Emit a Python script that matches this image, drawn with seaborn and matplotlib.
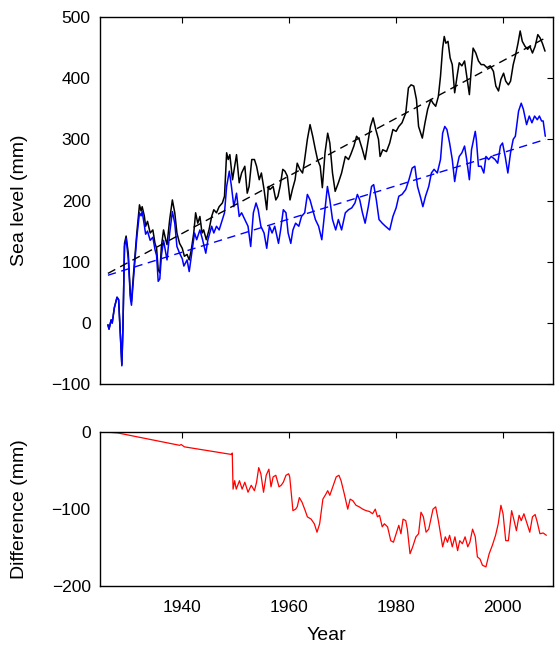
import numpy as np
import matplotlib
matplotlib.use("Agg")
import matplotlib.pyplot as plt
import seaborn as sb

#%% Daten

black_years = [1926.2, 1926.4, 1926.8, 1927.0, 1927.4, 1927.9, 1928.2, 1928.5, 1928.8, 1929.0,
               1929.3, 1929.6, 1930.0, 1930.4, 1930.6, 1931.0, 1931.6, 1932.1, 1932.4, 1932.6,
               1933.0, 1933.25, 1933.6, 1934.1, 1934.6, 1935.0, 1935.3, 1935.6, 1935.9, 1936.2,
               1936.6, 1937.0, 1937.25, 1937.75, 1938.25, 1938.7, 1939.1, 1939.6, 1940.1, 1940.5,
               1941.0, 1941.4, 1941.8, 1942.25, 1942.6, 1943.0, 1943.4, 1943.8, 1944.1, 1944.6,
               1945.1, 1945.6, 1946.0, 1946.5, 1947.0, 1947.6, 1948.0, 1948.4, 1948.7, 1949.0,
               1949.5, 1949.9, 1950.25, 1950.75, 1951.2, 1951.8, 1952.25, 1952.6, 1953.1, 1953.6,
               1954.0, 1954.5, 1954.9, 1955.4, 1955.9, 1956.2, 1956.5, 1957.1, 1957.6, 1958.0,
               1958.4, 1958.9, 1959.3, 1959.75, 1960.25, 1960.7, 1961.2, 1961.6, 1962.1, 1962.6,
               1962.9, 1963.5, 1964.0, 1964.5, 1965.0, 1965.4, 1965.9, 1966.3, 1966.8, 1967.3,
               1967.7, 1968.2, 1968.7, 1969.3, 1969.9, 1970.6, 1971.2, 1971.6, 1972.2, 1972.7,
               1973.2, 1973.8, 1974.3, 1974.7, 1975.3, 1975.8, 1976.3, 1976.8, 1977.1, 1977.6,
               1978.3, 1978.9, 1979.5, 1980.1, 1980.6, 1981.2, 1981.9, 1982.4, 1982.9, 1983.4,
               1983.9, 1984.3, 1985.0, 1985.5, 1986.0, 1986.6, 1987.0, 1987.5, 1988.0, 1988.4,
               1988.8, 1989.1, 1989.4, 1989.8, 1990.2, 1990.6, 1991.05, 1991.5, 1991.9, 1992.4,
               1992.9, 1993.3, 1993.8, 1994.2, 1994.5, 1995.0, 1995.5, 1996.0, 1996.5, 1997.1,
               1997.7, 1998.3, 1998.75, 1999.25, 1999.7, 2000.2, 2000.6, 2001.1, 2001.5, 2002.0,
               2002.4, 2002.9, 2003.3, 2003.7, 2004.2, 2004.7, 2005.1, 2005.6, 2006.1, 2006.6,
               2007.0, 2007.45, 2007.95]
black_level = [-3, -10, 5, 0, 25, 42, 38, -16, -68, -10,
               130, 142, 114, 45, 35, 82, 147, 193, 183, 190,
               175, 158, 166, 147, 152, 130, 122, 87, 82, 125,
               152, 136, 128, 169, 201, 180, 147, 130, 122, 109,
               112, 103, 120, 147, 180, 163, 174, 147, 152, 136,
               152, 174, 185, 180, 190, 196, 207, 278, 267, 275,
               234, 256, 275, 229, 245, 256, 212, 223, 267, 267,
               256, 234, 245, 218, 185, 223, 218, 223, 201, 207,
               223, 251, 248, 240, 201, 218, 234, 261, 251, 245,
               261, 300, 324, 305, 283, 267, 256, 221, 278, 310,
               294, 245, 215, 229, 245, 272, 267, 275, 289, 305,
               300, 283, 267, 289, 321, 335, 316, 300, 272, 283,
               280, 294, 316, 313, 321, 327, 343, 384, 389, 387,
               365, 321, 302, 327, 349, 365, 359, 354, 370, 403,
               449, 468, 457, 460, 433, 422, 376, 403, 425, 420,
               428, 403, 373, 420, 449, 441, 428, 422, 422, 417,
               420, 411, 387, 379, 398, 408, 395, 389, 395, 422,
               436, 457, 477, 460, 452, 447, 452, 441, 452, 471,
               466, 457, 444]

blue_years = [1926.2, 1926.4, 1926.8, 1927.0, 1927.4, 1927.9, 1928.2, 1928.5, 1928.8, 1929.0,
              1929.3, 1929.6, 1930.0, 1930.4, 1930.6, 1931.0, 1931.6, 1932.1, 1932.4, 1932.6,
              1933.0, 1933.25, 1933.6, 1934.1, 1934.6, 1935.0, 1935.3, 1935.6, 1935.9, 1936.2,
              1936.6, 1937.0, 1937.25, 1937.75, 1938.25, 1938.7, 1939.1, 1939.6, 1940.1, 1940.4,
              1941.0, 1941.4, 1941.8, 1942.4, 1942.8, 1943.4, 1943.9, 1944.5, 1944.9, 1945.6,
              1946.0, 1946.5, 1947.0, 1947.6, 1948.0, 1948.4, 1948.9, 1949.3, 1949.75, 1950.25,
              1950.75, 1951.2, 1951.8, 1952.4, 1952.9, 1953.4, 1953.9, 1954.3, 1954.8, 1955.4,
              1955.9, 1956.4, 1956.9, 1957.4, 1958.1, 1958.5, 1959.0, 1959.5, 1959.9, 1960.4,
              1960.8, 1961.3, 1961.9, 1962.4, 1963.0, 1963.5, 1964.0, 1965.0, 1965.6, 1966.2,
              1966.6, 1967.25, 1967.7, 1968.2, 1968.8, 1969.3, 1969.9, 1970.6, 1971.2, 1971.8,
              1972.4, 1972.85, 1973.3, 1973.8, 1974.3, 1974.9, 1975.5, 1975.9, 1976.4, 1976.9,
              1977.5, 1978.1, 1978.9, 1979.5, 1980.1, 1980.6, 1981.2, 1981.9, 1982.5, 1983.1,
              1983.6, 1984.1, 1984.7, 1985.1, 1985.6, 1986.2, 1986.7, 1987.2, 1987.8, 1988.4,
              1988.8, 1989.2, 1989.6, 1990.1, 1990.6, 1991.05, 1991.5, 1991.9, 1992.4, 1992.9,
              1993.3, 1993.8, 1994.2, 1994.9, 1995.1, 1995.5, 1996.0, 1996.5, 1996.9, 1997.4,
              1997.9, 1998.6, 1999.1, 1999.6, 2000.0, 2000.5, 2001.0, 2001.5, 2002.0, 2002.4,
              2003.0, 2003.5, 2003.9, 2004.5, 2005.0, 2005.5, 2006.0, 2006.5, 2006.9, 2007.3,
              2007.6, 2008.0]
blue_level = [-3, -10, 5, 0, 25, 42, 38, -16, -70, -10,
              125, 138, 105, 40, 29, 75, 140, 180, 175, 182,
              160, 145, 150, 135, 140, 120, 110, 68, 72, 110,
              135, 115, 103, 147, 182, 163, 125, 114, 105, 93,
              103, 84, 109, 147, 136, 152, 136, 114, 136, 158,
              147, 158, 152, 169, 180, 223, 248, 223, 190, 212,
              174, 180, 169, 158, 125, 180, 196, 185, 158, 147,
              122, 158, 147, 158, 130, 152, 185, 180, 147, 130,
              152, 163, 158, 174, 180, 210, 201, 169, 158, 136,
              169, 223, 201, 169, 152, 169, 152, 180, 185, 188,
              196, 210, 201, 180, 163, 190, 223, 226, 201, 169,
              163, 158, 152, 174, 188, 207, 210, 218, 234, 253,
              256, 223, 204, 190, 207, 223, 245, 251, 245, 267,
              310, 321, 316, 294, 267, 231, 256, 272, 278, 289,
              267, 234, 283, 313, 300, 256, 256, 245, 272, 267,
              272, 267, 261, 289, 294, 272, 245, 278, 300, 305,
              346, 359, 349, 324, 338, 327, 338, 332, 338, 330,
              330, 305]

# lineare Trends (Endpunkte)
trend_years = [1926.2, 2008.1]
black_trend = [81, 466]
blue_trend = [78, 300]

diff_years = [1926.25, 1928.1, 1939.6, 1939.9, 1940.5, 1949.4, 1949.45, 1949.6, 1949.9, 1950.2,
              1950.8, 1951.3, 1951.8, 1952.4, 1953.0, 1953.6, 1954.0, 1954.4, 1954.8, 1955.3,
              1955.8, 1956.3, 1956.7, 1957.1, 1957.6, 1958.2, 1958.6, 1959.0, 1959.5, 1960.0,
              1960.2, 1960.8, 1961.3, 1961.6, 1962.0, 1962.5, 1963.1, 1963.5, 1964.2, 1964.8,
              1965.3, 1965.8, 1966.4, 1967.0, 1967.3, 1967.7, 1968.25, 1968.9, 1969.4, 1969.8,
              1970.4, 1971.05, 1971.5, 1972.0, 1972.6, 1973.2, 1973.85, 1974.5, 1975.1, 1975.7,
              1976.2, 1976.6, 1977.0, 1977.5, 1977.9, 1978.5, 1979.1, 1979.6, 1980.1, 1980.6,
              1981.0, 1981.4, 1981.9, 1982.2, 1982.7, 1983.2, 1983.8, 1984.3, 1984.75, 1985.2,
              1985.7, 1986.2, 1986.6, 1987.0, 1987.5, 1988.0, 1988.5, 1988.8, 1989.3, 1989.7,
              1990.1, 1990.6, 1991.1, 1991.6, 1992.0, 1992.5, 1993.0, 1993.5, 1993.9, 1994.4,
              1994.9, 1995.3, 1995.8, 1996.25, 1996.9, 1997.5, 1998.1, 1998.7, 1999.2, 1999.7,
              2000.1, 2000.6, 2001.1, 2001.7, 2002.1, 2002.6, 2003.1, 2003.5, 2004.0, 2004.6,
              2005.1, 2005.6, 2006.1, 2006.5, 2007.0, 2007.6, 2008.2]
diff_level = [0, -1, -17, -16, -19, -29, -27, -74, -63, -74,
              -63, -74, -65, -78, -69, -76, -65, -46, -54, -78,
              -56, -48, -71, -58, -56, -71, -69, -65, -56, -54,
              -58, -102, -100, -97, -85, -91, -102, -110, -113, -119,
              -130, -119, -87, -80, -76, -82, -71, -58, -56, -63,
              -80, -100, -87, -89, -95, -97, -100, -102, -103, -106,
              -100, -110, -108, -123, -119, -123, -141, -143, -132, -121,
              -132, -113, -115, -126, -158, -149, -136, -132, -104, -110,
              -130, -126, -113, -100, -97, -115, -136, -149, -136, -143,
              -134, -149, -136, -154, -141, -145, -136, -149, -143, -126,
              -136, -162, -165, -173, -175, -158, -147, -134, -119, -95,
              -106, -141, -141, -102, -113, -128, -108, -115, -106, -119,
              -130, -110, -107, -117, -132, -131, -134]

x_ticks = [1940, 1960, 1980, 2000]
top_yticks = [-100, 0, 100, 200, 300, 400, 500]
bottom_yticks = [-200, -100, 0]

#%% Plot

sb.set_style("white")
plt.rcParams['font.family'] = ['Liberation Sans', 'DejaVu Sans']
plt.rcParams['text.color'] = 'black'
plt.rcParams['axes.labelcolor'] = 'black'
plt.rcParams['xtick.direction'] = 'in'
plt.rcParams['ytick.direction'] = 'in'

fig = plt.figure(figsize=(5.55, 6.49), dpi=100)
ax1 = fig.add_axes([0.181, 0.408, 0.815, 0.566])
ax2 = fig.add_axes([0.181, 0.097, 0.815, 0.237])

sb.lineplot(x=black_years, y=black_level, color='black', linewidth=1.1, ax=ax1)
sb.lineplot(x=blue_years, y=blue_level, color='#0000ff', linewidth=1.1, ax=ax1)
sb.lineplot(x=trend_years, y=black_trend, color='black', linewidth=1.0, ax=ax1)
sb.lineplot(x=trend_years, y=blue_trend, color='#0000ff', linewidth=1.0, ax=ax1)
ax1.lines[2].set_dashes((6, 4))
ax1.lines[3].set_dashes((6, 4))

sb.lineplot(x=diff_years, y=diff_level, color='#ff0000', linewidth=0.9, ax=ax2)

for ax in (ax1, ax2):
    ax.set_xlim(1924.8, 2009.4)
    ax.set_xticks(x_ticks)
    for s in ax.spines.values():
        s.set_visible(True)
        s.set_color('black')
        s.set_linewidth(1.0)
    ax.tick_params(which='both', direction='in', top=True, right=True,
                   length=4, width=0.8, labelsize=12.5, colors='black')
    ax.tick_params(axis='y', pad=7)
    ax.tick_params(axis='x', pad=10)

ax1.set_ylim(-100, 500)
ax1.set_yticks(top_yticks)
ax1.set_xticklabels([])
ax1.set_ylabel('Sea level (mm)', fontsize=14, color='black')
ax1.yaxis.set_label_coords(-0.161, 0.5)

ax2.set_ylim(-200, 0)
ax2.set_yticks(bottom_yticks)
ax2.set_ylabel('Difference (mm)', fontsize=14, color='black')
ax2.yaxis.set_label_coords(-0.161, 0.5)
ax2.set_xlabel('Year', fontsize=14, labelpad=9, color='black')

fig.savefig('out.png', dpi=100)
